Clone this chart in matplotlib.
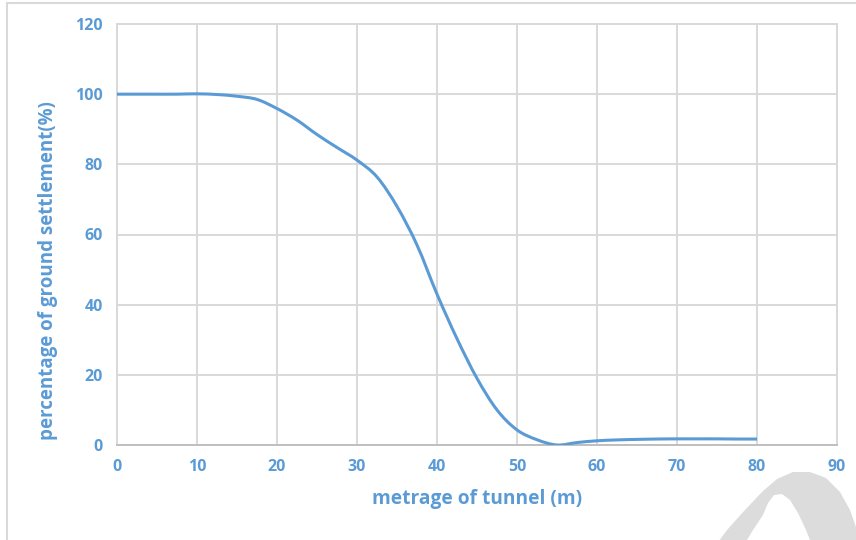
import numpy as np
import matplotlib
matplotlib.use("Agg")
import matplotlib.pyplot as plt
from matplotlib.patches import Rectangle, PathPatch, Polygon
from matplotlib.path import Path
from matplotlib.transforms import Affine2D

BLUE = "#5B9BD5"
GRID = "#D9D9D9"
plt.rcParams.update({"font.family": ["Open Sans", "DejaVu Sans"], "font.weight": "bold"})

# metrage (m) and percentage of settlement (%)
metrage = [0, 2.5, 5, 7.5, 10, 12.5, 15, 17.5, 20, 22.5, 25, 27.5, 30, 32.5, 35,
           37.5, 40, 42.5, 45, 47.5, 50, 52.5, 55, 57.5, 60, 62.5, 65, 67.5, 70,
           72.5, 75, 77.5, 80]
settlement = [100, 100, 100, 100, 100.1, 99.9, 99.4, 98.5, 95.9, 92.6, 88.5, 84.8,
              81.2, 76.4, 68.0, 57.0, 43.0, 30.3, 19.0, 10.0, 4.3, 1.5, 0.0, 0.7,
              1.2, 1.45, 1.6, 1.7, 1.75, 1.75, 1.75, 1.7, 1.7]
xticks = [0, 10, 20, 30, 40, 50, 60, 70, 80, 90]
yticks = [0, 20, 40, 60, 80, 100, 120]


def smooth_path(xs, ys):
    # Catmull-Rom through the points as cubic beziers (like a "smoothed line")
    p = np.column_stack([xs, ys]).astype(float)
    verts, codes = [p[0]], [Path.MOVETO]
    for i in range(len(p) - 1):
        p0 = p[max(i - 1, 0)]; p1 = p[i]; p2 = p[i + 1]; p3 = p[min(i + 2, len(p) - 1)]
        verts += [p1 + (p2 - p0) / 6, p2 - (p3 - p1) / 6, p2]
        codes += [Path.CURVE4] * 3
    return Path(verts, codes)


fig = plt.figure(figsize=(8.56, 5.4), dpi=100)
# outer frame of the pasted chart
fig.patches.append(Rectangle((7/856, -0.1), 1.0, (540-3)/540 + 0.1, transform=fig.transFigure,
                             fill=False, ec=GRID, lw=1.5))
# grey watermark fragment in the lower right corner (pixel coords, y down)
wm_out = [(716, 545), (727, 530), (745, 510), (762, 492), (777, 479), (793, 472), (810, 472),
          (826, 478), (840, 492), (850, 510), (857, 530), (860, 545)]
wm_in = [(812, 545), (806, 530), (798, 513), (790, 500), (782, 494), (774, 495),
         (768, 503), (763, 515), (753, 530), (744, 545)]
fig.patches.append(Polygon([(x, 540 - y) for x, y in wm_out + wm_in], closed=True,
                           transform=Affine2D(), fc="#DCDCDC", ec="none", zorder=0))

ax = fig.add_axes([117/856, 1-445/540, 720/856, 421/540])
ax.add_patch(PathPatch(smooth_path(metrage, settlement), fill=False, ec=BLUE, lw=2.2, zorder=3))
ax.set_xlim(0, 90); ax.set_ylim(0, 120)
ax.set_xticks(xticks); ax.set_yticks(yticks)
ax.grid(True, color=GRID, lw=1.4)
ax.set_axisbelow(True)
for s in ["top", "right", "left"]:
    ax.spines[s].set_color(GRID); ax.spines[s].set_linewidth(1.4)
ax.spines["bottom"].set_color("#BFBFBF"); ax.spines["bottom"].set_linewidth(1.4)
ax.tick_params(length=0, labelsize=11.5, labelcolor=BLUE, pad=10)
for t in ax.get_xticklabels() + ax.get_yticklabels():
    t.set_fontweight("bold")
ax.set_xlabel("metrage of tunnel (m)", fontsize=13.8, color=BLUE, fontweight="bold")
ax.set_ylabel("percentage of ground settlement(%)", fontsize=13.5, color=BLUE,
              fontweight="bold")
ax.xaxis.set_label_coords(0.5, -(499 - 445) / 421, transform=ax.transAxes)
ax.yaxis.set_label_coords(-(117 - 48) / 720, (445 - 271) / 421, transform=ax.transAxes)
ax.xaxis.label.set_va("center"); ax.yaxis.label.set_va("center")

fig.savefig("out.png", dpi=100)
